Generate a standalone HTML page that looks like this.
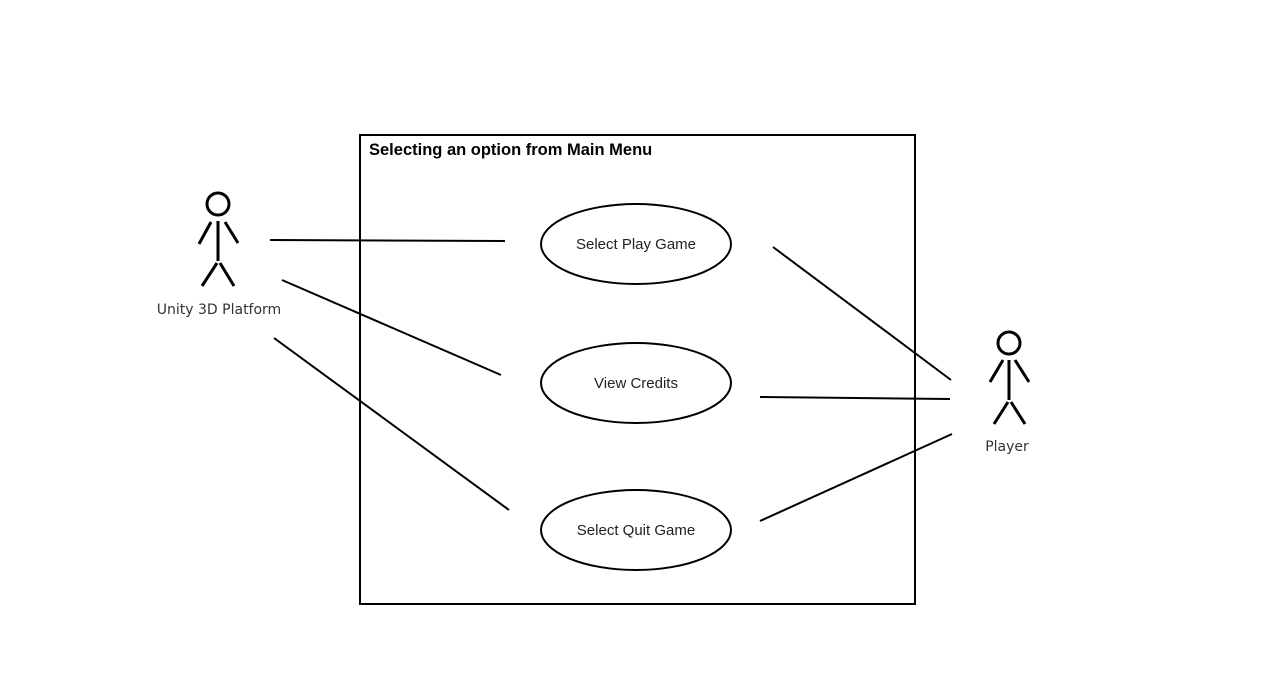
<!DOCTYPE html>
<html><head><style>body{margin:0;background:#fff}</style></head><body>
<svg width="1270" height="695" xmlns="http://www.w3.org/2000/svg" style="display:block">
<rect width="1270" height="695" fill="#fff"/>
<g stroke="#000" stroke-width="2" fill="none">
<rect x="360" y="135" width="555" height="469"/>
<ellipse cx="636" cy="244" rx="95" ry="40"/>
<ellipse cx="636" cy="383" rx="95" ry="40"/>
<ellipse cx="636" cy="530" rx="95" ry="40"/>
<line x1="270" y1="240" x2="505" y2="241"/>
<line x1="282" y1="280" x2="501" y2="375"/>
<line x1="274" y1="338" x2="509" y2="510"/>
<line x1="773" y1="247" x2="951" y2="380"/>
<line x1="760" y1="397" x2="950" y2="399"/>
<line x1="760" y1="521" x2="952" y2="434"/>
<g stroke-width="3">
<circle cx="218" cy="204" r="11"/>
<line x1="218" y1="221" x2="218" y2="261"/>
<line x1="211" y1="222" x2="199" y2="244"/>
<line x1="225" y1="222" x2="238" y2="243"/>
<line x1="217" y1="263" x2="202" y2="286"/>
<line x1="220" y1="263" x2="234" y2="286"/>
<circle cx="1009" cy="343" r="11"/>
<line x1="1009" y1="360" x2="1009" y2="400"/>
<line x1="1003" y1="360" x2="990" y2="382"/>
<line x1="1015" y1="360" x2="1029" y2="382"/>
<line x1="1008" y1="402" x2="994" y2="424"/>
<line x1="1011" y1="402" x2="1025" y2="424"/>
</g>
</g>
<g font-family="Liberation Sans, sans-serif" fill="#222">
<text x="369" y="155" font-size="16.5" font-weight="bold" fill="#000">Selecting an option from Main Menu</text>
<text x="636" y="249" font-size="15" text-anchor="middle">Select Play Game</text>
<text x="636" y="388" font-size="15" text-anchor="middle">View Credits</text>
<text x="636" y="535" font-size="15" text-anchor="middle">Select Quit Game</text>
<text x="219" y="314" font-size="14" text-anchor="middle" font-family="DejaVu Sans, sans-serif" fill="#333">Unity 3D Platform</text>
<text x="1007" y="451" font-size="14" text-anchor="middle" font-family="DejaVu Sans, sans-serif" fill="#333">Player</text>
</g>
</svg>
</body></html>
